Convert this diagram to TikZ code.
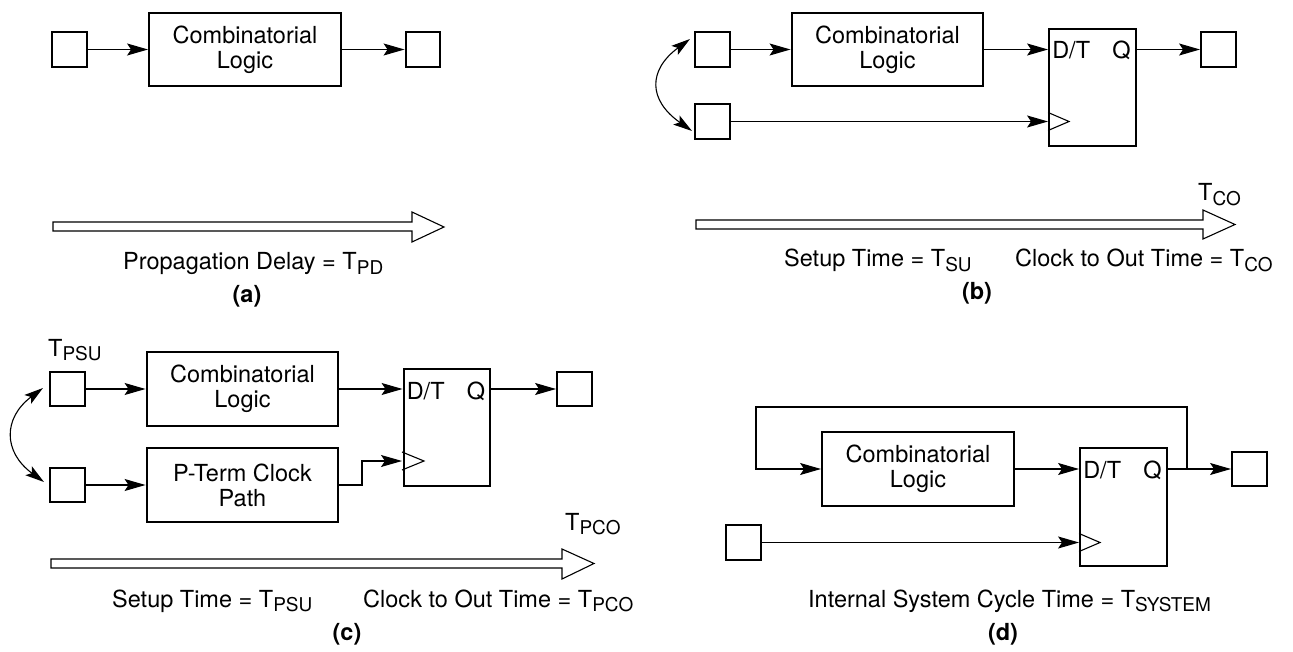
\documentclass[tikz,border=0pt]{standalone}
\usepackage{fontspec}
\setmainfont{TeX Gyre Heros}
\usetikzlibrary{arrows.meta}
\newcommand\tsub[1]{\raisebox{-4.5pt}{\fontsize{19}{19}\selectfont #1}}
\newcommand\mainsz{\fontsize{23.5}{25}\selectfont}
\begin{document}
\begin{tikzpicture}[x=1pt,y=-1pt,
  sq/.style={draw, line width=2.4pt, minimum width=34.5pt, minimum height=34.5pt, inner sep=0pt},
  logic/.style={draw, line width=2.4pt, minimum width=191.5pt, minimum height=72.5pt, align=center, inner sep=0pt, font=\mainsz},
  ffbox/.style={draw, line width=2.4pt, minimum width=86.5pt, minimum height=116.5pt, inner sep=0pt},
  wire/.style={line width=1.1pt, -{Stealth[length=21pt,width=12pt,inset=4pt]}},
  dwire/.style={line width=1.1pt, {Stealth[length=19pt,width=11pt,inset=4pt]}-{Stealth[length=19pt,width=11pt,inset=4pt]}},
  clk/.style={line width=1.1pt},
  hollow/.style={line width=1.1pt, fill=white},
  txt/.style={font=\mainsz, inner sep=0pt, anchor=base west},
  subcap/.style={font=\mainsz\bfseries, inner sep=0pt, anchor=base},
  pin/.style={font=\mainsz, inner sep=0pt},
]
\useasboundingbox (0,0) rectangle (1293,652);

% ---------------- (a)
\node[sq] (asl) at (69.5,49.5) {};
\node[logic] (acl) at (245,49.5) {Combinatorial\\Logic};
\node[sq] (aout) at (423,49.5) {};
\draw[wire] (asl) -- (acl);
\draw[wire] (acl) -- (aout);
\draw[hollow] (53,222) -- (412,222) -- (412,212) -- (444,227) -- (412,242) -- (412,231) -- (53,231) -- cycle;
\node[txt] (atxt) at (123,270) {Propagation Delay = T\tsub{PD}};
\node[subcap] (acap) at (247,303) {(a)};

% ---------------- (b)
\node[sq] (btl) at (712.5,49.5) {};
\node[sq] (bbl) at (712.5,121.5) {};
\node[logic] (bcl) at (887.5,49.5) {Combinatorial\\Logic};
\node[ffbox] (bff) at (1092.5,87.5) {};
\node[sq] (bout) at (1218.5,49.5) {};
\node[pin, anchor=base west] (bd) at ([xshift=4pt,yshift=-30pt]bff.north west) {D/T};
\node[pin, anchor=base east] (bq) at ([xshift=-6pt,yshift=-30pt]bff.north east) {Q};
\draw[wire] (btl) -- (bcl);
\draw[wire] (bcl) -- (bcl -| bff.west);
\draw[wire] (bcl -| bff.east) -- (bout);
\coordinate (bck) at (bbl -| bff.west);
\draw[wire] (bbl) -- (bck);
\draw[clk] ([yshift=9pt]bck) -- ([xshift=21pt]bck) -- ([yshift=-9pt]bck);
\coordinate (bca) at (690,39);
\coordinate (bcb) at (692,131);
\draw[dwire] (bca) .. controls (648,70) and (648,100) .. (bcb);
\draw[hollow] (696,220) -- (1203,220) -- (1203,210) -- (1235,224.5) -- (1203,239) -- (1203,229) -- (696,229) -- cycle;
\node[txt] (btco) at (1198,201) {T\tsub{CO}};
\node[txt] (bsu) at (784,267) {Setup Time = T\tsub{SU}};
\node[txt] (bco) at (1015,267) {Clock to Out Time = T\tsub{CO}};
\node[subcap] (bcap) at (977,300) {(b)};

% ---------------- (c)
\node[txt] (cpsu) at (48,356) {T\tsub{PSU}};
\node[sq] (ctl) at (67.5,389) {};
\node[sq] (cbl) at (67.5,485) {};
\node[logic, minimum height=73.5pt] (ccl) at (242.5,389) {Combinatorial\\Logic};
\node[logic, minimum height=73.5pt] (cpt) at (242.5,485) {P-Term Clock\\Path};
\node[ffbox] (cff) at (447,427.5) {};
\node[sq] (cout) at (574.5,389) {};
\node[pin, anchor=base west] (cd) at ([xshift=4pt,yshift=-31pt]cff.north west) {D/T};
\node[pin, anchor=base east] (cq) at ([xshift=-6pt,yshift=-31pt]cff.north east) {Q};
\draw[wire] (ctl) -- (ccl);
\draw[wire] (cbl) -- (cpt);
\draw[wire] (ccl) -- (ccl -| cff.west);
\draw[wire] (ccl -| cff.east) -- (cout);
\coordinate (cck) at (402,461);
\coordinate (cbend) at (362,485);
\draw[wire] (cpt.east) -- (cbend) |- (cck);
\draw[clk] ([yshift=9pt]cck) -- ([xshift=22pt]cck) -- ([yshift=-9pt]cck);
\coordinate (cca) at (43,388);
\coordinate (ccb) at (44,482);
\draw[dwire] (cca) .. controls (3,418) and (3,452) .. (ccb);
\draw[hollow] (51,559) -- (562,559) -- (562,549) -- (594,563.5) -- (562,579) -- (562,568) -- (51,568) -- cycle;
\node[txt] (cpco) at (565,530) {T\tsub{PCO}};
\node[txt] (csu) at (112,607) {Setup Time = T\tsub{PSU}};
\node[txt] (cco) at (363,607) {Clock to Out Time = T\tsub{PCO}};
\node[subcap] (ccap) at (347,640) {(c)};

% ---------------- (d)
\node[logic, minimum height=73.5pt] (dcl) at (918,469) {Combinatorial\\Logic};
\node[ffbox, minimum height=117.5pt] (dff) at (1123.5,507) {};
\node[sq] (dout) at (1249.5,469) {};
\node[sq] (dck) at (743.5,542.5) {};
\node[pin, anchor=base west] (dd) at ([xshift=4pt,yshift=-31pt]dff.north west) {D/T};
\node[pin, anchor=base east] (dq) at ([xshift=-6pt,yshift=-31pt]dff.north east) {Q};
\draw[wire] (dcl) -- (dcl -| dff.west);
\draw[wire] (dcl -| dff.east) -- (dout);
\coordinate (dj) at (1187,469);
\coordinate (dtr) at (1187,407);
\coordinate (dtl) at (756,407);
\draw[wire] (dj) -- (dtr) -- (dtl) |- (dcl.west);
\coordinate (dckin) at (dck -| dff.west);
\draw[wire] (dck) -- (dckin);
\draw[clk] ([yshift=9pt]dckin) -- ([xshift=21pt]dckin) -- ([yshift=-9pt]dckin);
\node[txt] (dsys) at (808,607) {Internal System Cycle Time = T\tsub{SYSTEM}};
\node[subcap] (dcap) at (1003,640) {(d)};
\end{tikzpicture}
\end{document}
